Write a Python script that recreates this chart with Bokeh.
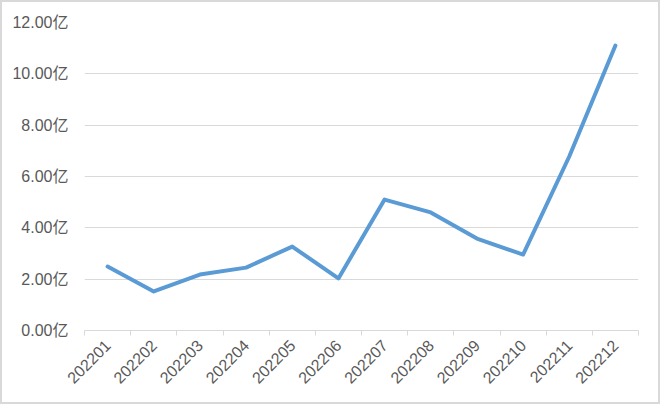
from bokeh.plotting import figure
from bokeh.models import FixedTicker, CustomJSTickFormatter, Range1d, ColumnDataSource
from bokeh.embed import file_html
from bokeh.resources import INLINE
import math

months = ["202201", "202202", "202203", "202204", "202205", "202206",
          "202207", "202208", "202209", "202210", "202211", "202212"]
values = [2.49, 1.52, 2.18, 2.45, 3.27, 2.03, 5.10, 4.60, 3.58, 2.96, 6.78, 11.10]
y_ticks = [0, 2, 4, 6, 8, 10, 12]

xs = [i + 0.5 for i in range(len(months))]
bounds = list(range(len(months) + 1))

p = figure(width=660, height=404, output_backend="svg", toolbar_location=None,
           x_range=Range1d(0, len(months)), y_range=Range1d(0, 12),
           min_border_left=82, min_border_right=24, min_border_top=20, min_border_bottom=76,
           styles={"border": "2px solid #d9d9d9", "box-sizing": "border-box"})
p.outline_line_color = None
p.background_fill_color = "white"
p.border_fill_color = "white"

src = ColumnDataSource(dict(x=xs, y=values))
p.line("x", "y", source=src, line_color="#5b9bd5", line_width=4,
       line_join="round", line_cap="round")

font = "Liberation Sans, Noto Sans CJK SC"
# y axis
p.yaxis.ticker = FixedTicker(ticks=y_ticks)
p.yaxis.formatter = CustomJSTickFormatter(code="return tick.toFixed(2) + '亿';")
p.yaxis.axis_line_color = None
p.yaxis.major_tick_line_color = None
p.yaxis.minor_tick_line_color = None
p.yaxis.major_label_text_font = font
p.yaxis.major_label_text_font_size = "16px"
p.yaxis.major_label_text_color = "#595959"
p.yaxis.major_label_standoff = 10

# x axis
p.xaxis.ticker = FixedTicker(ticks=xs, minor_ticks=bounds)
p.xaxis.major_label_overrides = {x: m for x, m in zip(xs, months)}
p.xaxis.major_label_orientation = math.pi / 4
p.xaxis.axis_line_color = "#d9d9d9"
p.xaxis.major_tick_line_color = None
p.xaxis.minor_tick_line_color = "#d9d9d9"
p.xaxis.minor_tick_in = 0
p.xaxis.minor_tick_out = 5
p.xaxis.major_label_text_font = font
p.xaxis.major_label_text_font_size = "16px"
p.xaxis.major_label_text_color = "#595959"
p.xaxis.major_label_standoff = 6

p.xgrid.grid_line_color = None
p.ygrid.grid_line_color = "#d9d9d9"
p.ygrid.grid_line_width = 1

open("out.html", "w").write(file_html(p, INLINE))
